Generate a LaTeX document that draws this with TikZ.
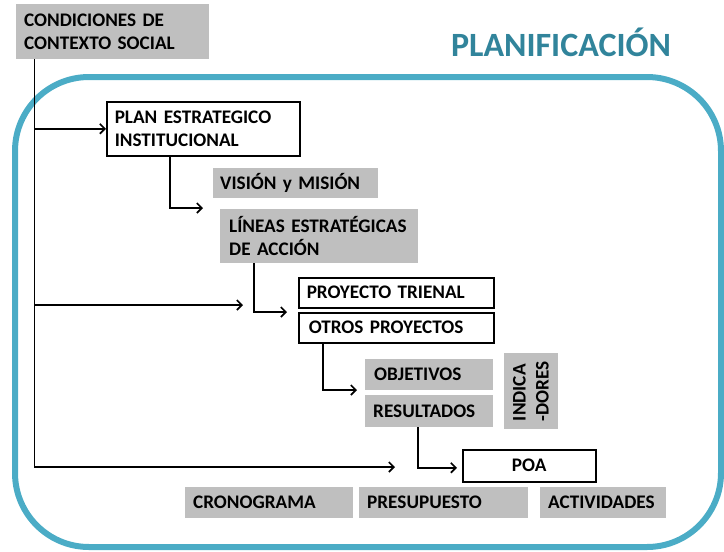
\documentclass[tikz,border=0pt]{standalone}
\usepackage{fontspec}
\setmainfont{Carlito}
\usetikzlibrary{arrows.meta}
\definecolor{tealframe}{HTML}{4BACC6}
\definecolor{tealtext}{HTML}{31849B}
\definecolor{greybox}{HTML}{BFBFBF}
\DeclareRobustCommand{\tightspace}{\spaceskip=3pt plus 1pt minus 0.5pt\relax}
\begin{document}
\begin{tikzpicture}[x=1pt,y=-1pt,
  txt/.style={font=\fontsize{19.2}{23}\selectfont\bfseries\tightspace},
  wbox/.style={txt,draw=black,line width=1.5pt,fill=white,anchor=north west,align=left,inner xsep=8pt,inner ysep=0pt},
  gbx/.style={txt,fill=greybox,anchor=north west,align=left,inner xsep=8pt,inner ysep=0pt},
  conn/.style={line width=1.6pt,black},
  arr/.style={conn,-{Straight Barb[length=5pt,width=10pt]}}]
\useasboundingbox (0,0) rectangle (724,552);
% frame
\draw[tealframe,line width=6pt,rounded corners=74pt] (15,77) rectangle (721,547);
% title
\node[font=\fontsize{34}{38}\selectfont\bfseries,text=tealtext] (title) at (561,42) {PLANIFICACIÓN};
% nodes
\node[gbx,minimum width=193pt,minimum height=55pt,text width=177pt] (cond) at (16,4) {CONDICIONES DE\\CONTEXTO SOCIAL};
\node[wbox,minimum width=193pt,minimum height=54pt,text width=177pt] (plan) at (106,101) {PLAN ESTRATEGICO\\INSTITUCIONAL};
\node[gbx,minimum width=165pt,minimum height=30pt,text width=151pt,inner xsep=7pt] (vis) at (213,168) {VISIÓN y MISIÓN};
\node[gbx,minimum width=198pt,minimum height=54pt,text width=180pt,inner xsep=9pt] (lin) at (220,209) {LÍNEAS ESTRATÉGICAS\\DE ACCIÓN};
\node[wbox,minimum width=195pt,minimum height=30pt,text width=179pt] (tri) at (298,277) {PROYECTO TRIENAL};
\node[wbox,minimum width=195pt,minimum height=30pt,text width=175pt,inner xsep=10pt] (otros) at (298,312) {OTROS PROYECTOS};
\node[gbx,minimum width=128pt,minimum height=31pt,text width=110pt,inner xsep=9pt] (obj) at (365,359) {OBJETIVOS};
\node[gbx,minimum width=128pt,minimum height=32pt,text width=112pt] (res) at (365,395) {RESULTADOS};
\node[txt,fill=greybox,rotate=90,minimum width=76pt,minimum height=54pt,align=left,inner sep=0pt] (ind) at (531,391) {INDICA\\-DORES};
\node[wbox,minimum width=133pt,minimum height=32pt,align=center,inner xsep=0pt,text width=133pt] (poa) at (462,449) {POA};
\node[gbx,minimum width=168pt,minimum height=31pt,text width=152pt] (cro) at (185,487) {CRONOGRAMA};
\node[gbx,minimum width=169pt,minimum height=31pt,text width=153pt] (pre) at (359,487) {PRESUPUESTO};
\node[gbx,minimum width=126pt,minimum height=31pt,text width=110pt] (act) at (540,487) {ACTIVIDADES};
% connector coordinates
\coordinate (t0) at ([xshift=18.5pt]cond.south west);
\coordinate (c1) at (203,208);
\coordinate (c2) at (243,305);
\coordinate (c3) at (287,312);
\coordinate (c4) at (395,467);
\coordinate (c5) at (357,390);
% connectors
\draw[arr] (t0) |- (c4);
\draw[arr] (t0 |- plan.west) -- (plan.west);
\draw[arr] (t0 |- c2) -- (c2);
\draw[arr] ([xshift=64pt]plan.south west) |- (c1);
\draw[arr] ([xshift=34pt]lin.south west) |- (c3);
\draw[arr] ([xshift=25pt]otros.south west) |- (c5);
\draw[arr] ([xshift=53pt]res.south west) |- ([xshift=-5pt,yshift=-2pt]poa.west);
\end{tikzpicture}
\end{document}
